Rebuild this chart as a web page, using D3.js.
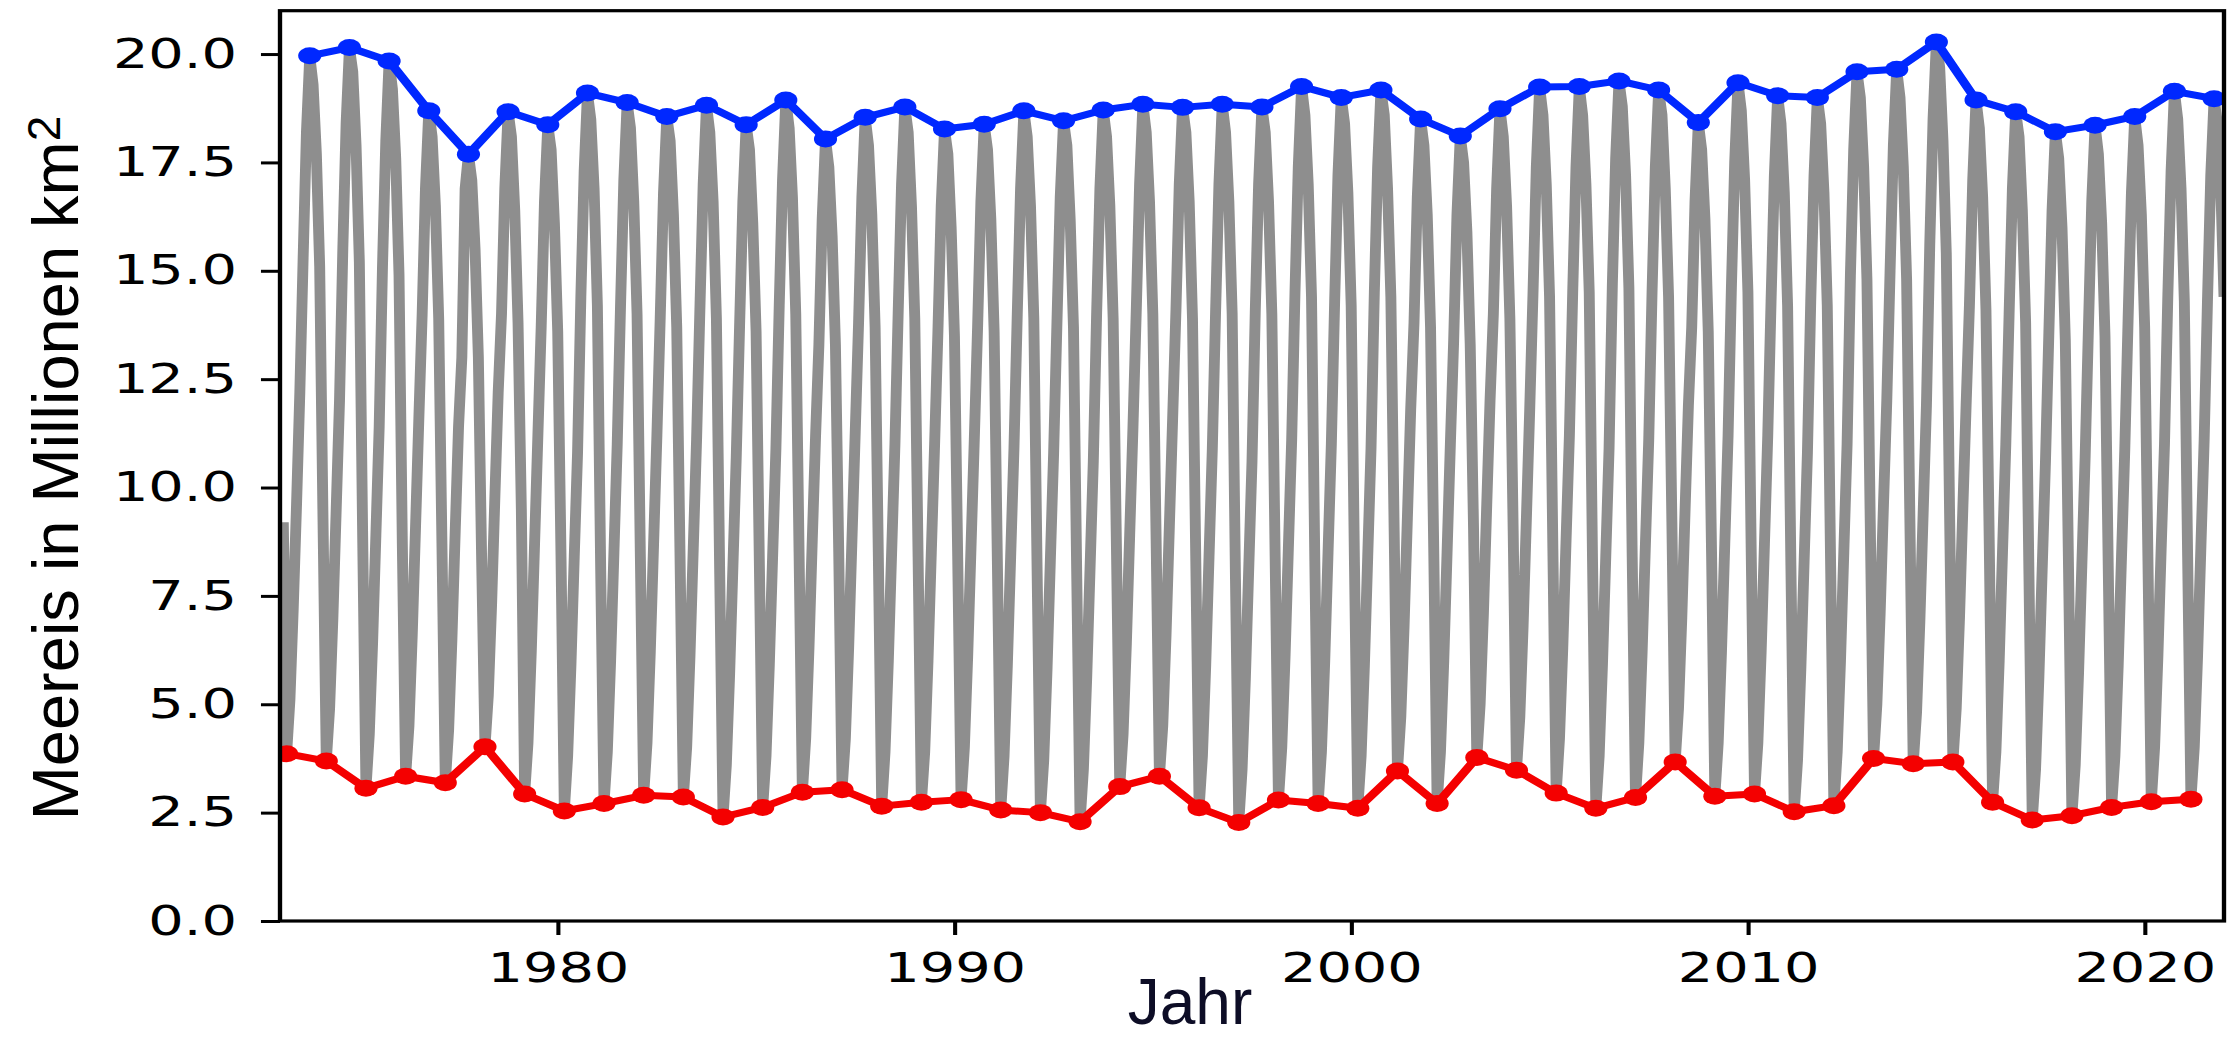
<!DOCTYPE html>
<html>
<head>
<meta charset="utf-8">
<script src="https://cdn.jsdelivr.net/npm/d3@7"></script>
<style>
  html, body { margin: 0; padding: 0; background: #fff; }
  svg { display: block; }
</style>
</head>
<body>
<svg id="chart" width="2230" height="1039"></svg>
<script>
// Monthly sea-ice extent (million km²): year, then Jan … Dec
const monthlyExtent = [
  [1973, 9.2, 3.86, 5.1, 7.2, 9.6, 12.2, 15.3, 18.2, 19.96, 19.3, 17.7, 15.1],
  [1974, 9.3, 3.69, 4.9, 7.0, 9.5, 12.0, 15.5, 18.4, 20.15, 19.6, 17.9, 15.2],
  [1975, 8.9, 3.06, 4.3, 6.4, 8.9, 11.4, 15.1, 18.0, 19.84, 19.2, 17.6, 14.9],
  [1976, 8.7, 3.34, 4.5, 6.6, 9.1, 11.6, 14.0, 16.9, 18.69, 18.1, 16.5, 13.9],
  [1977, 8.6, 3.19, 4.4, 6.5, 9.0, 11.4, 13.0, 16.9, 17.69, 17.1, 15.5, 13.0],
  [1978, 8.3, 4.02, 5.2, 7.3, 9.8, 12.2, 14.0, 16.9, 18.67, 18.1, 16.4, 13.8],
  [1979, 9.5, 2.93, 4.1, 6.2, 8.7, 11.2, 13.7, 16.6, 18.37, 17.8, 16.1, 13.6],
  [1980, 8.4, 2.54, 3.8, 5.9, 8.4, 10.8, 14.4, 17.3, 19.10, 18.5, 16.9, 14.2],
  [1981, 8.1, 2.71, 3.9, 6.0, 8.5, 11.0, 14.2, 17.1, 18.88, 18.3, 16.6, 14.0],
  [1982, 8.4, 2.90, 4.1, 6.2, 8.7, 11.2, 13.9, 16.8, 18.56, 18.0, 16.3, 13.7],
  [1983, 8.4, 2.86, 4.0, 6.1, 8.6, 11.1, 14.1, 17.0, 18.82, 18.2, 16.6, 13.9],
  [1984, 8.0, 2.40, 3.6, 5.7, 8.2, 10.7, 13.7, 16.6, 18.37, 17.8, 16.1, 13.6],
  [1985, 8.2, 2.62, 3.8, 5.9, 8.4, 10.9, 14.2, 17.1, 18.94, 18.3, 16.7, 14.0],
  [1986, 8.5, 2.97, 4.2, 6.3, 8.8, 11.2, 13.3, 16.2, 18.04, 17.4, 15.8, 13.3],
  [1987, 8.5, 3.03, 4.2, 6.3, 8.8, 11.3, 13.8, 16.7, 18.54, 17.9, 16.3, 13.7],
  [1988, 8.3, 2.65, 3.9, 6.0, 8.5, 11.0, 14.1, 17.0, 18.78, 18.2, 16.5, 13.9],
  [1989, 8.4, 2.74, 3.9, 6.0, 8.5, 11.0, 13.6, 16.5, 18.27, 17.7, 16.0, 13.5],
  [1990, 8.3, 2.80, 4.0, 6.1, 8.6, 11.1, 13.7, 16.6, 18.38, 17.8, 16.2, 13.6],
  [1991, 8.2, 2.56, 3.8, 5.9, 8.4, 10.9, 14.0, 16.9, 18.69, 18.1, 16.5, 13.9],
  [1992, 8.1, 2.50, 3.7, 5.8, 8.3, 10.8, 13.8, 16.7, 18.46, 17.9, 16.2, 13.7],
  [1993, 7.9, 2.29, 3.5, 5.6, 8.1, 10.6, 14.0, 16.9, 18.71, 18.1, 16.5, 13.9],
  [1994, 8.6, 3.10, 4.3, 6.4, 8.9, 11.4, 14.1, 17.0, 18.84, 18.2, 16.6, 14.0],
  [1995, 8.8, 3.34, 4.5, 6.6, 9.1, 11.6, 14.1, 17.0, 18.77, 18.2, 16.6, 13.9],
  [1996, 8.3, 2.61, 3.8, 5.9, 8.4, 10.9, 14.1, 17.0, 18.84, 18.2, 16.6, 14.0],
  [1997, 7.9, 2.27, 3.5, 5.6, 8.1, 10.6, 14.1, 17.0, 18.78, 18.2, 16.6, 14.0],
  [1998, 8.4, 2.79, 4.0, 6.1, 8.6, 11.1, 14.5, 17.4, 19.25, 18.6, 17.0, 14.4],
  [1999, 8.3, 2.71, 3.9, 6.0, 8.5, 11.0, 14.3, 17.2, 19.00, 18.4, 16.8, 14.2],
  [2000, 8.2, 2.60, 3.8, 5.9, 8.4, 10.9, 14.5, 17.4, 19.17, 18.6, 16.9, 14.4],
  [2001, 9.0, 3.46, 4.7, 6.8, 9.3, 11.8, 13.8, 16.7, 18.50, 17.9, 16.3, 13.7],
  [2002, 8.4, 2.71, 3.9, 6.0, 8.5, 11.0, 13.4, 16.3, 18.11, 17.5, 15.9, 13.3],
  [2003, 9.1, 3.77, 5.0, 7.1, 9.6, 12.0, 14.0, 16.9, 18.74, 18.1, 16.5, 13.9],
  [2004, 9.0, 3.48, 4.7, 6.8, 9.3, 11.8, 14.5, 17.4, 19.24, 18.6, 17.0, 14.4],
  [2005, 8.6, 2.95, 4.2, 6.3, 8.8, 11.2, 14.5, 17.4, 19.25, 18.6, 17.0, 14.5],
  [2006, 8.3, 2.60, 3.8, 5.9, 8.4, 10.9, 14.7, 17.6, 19.38, 18.8, 17.2, 14.6],
  [2007, 8.4, 2.85, 4.1, 6.2, 8.7, 11.1, 14.5, 17.4, 19.17, 18.6, 16.9, 14.4],
  [2008, 9.2, 3.67, 4.9, 7.0, 9.5, 11.9, 13.7, 16.6, 18.42, 17.8, 16.2, 13.6],
  [2009, 8.5, 2.88, 4.1, 6.2, 8.7, 11.2, 14.6, 17.5, 19.34, 18.7, 17.1, 14.5],
  [2010, 8.5, 2.93, 4.1, 6.2, 8.7, 11.2, 14.3, 17.2, 19.04, 18.4, 16.8, 14.2],
  [2011, 8.2, 2.52, 3.7, 5.8, 8.3, 10.8, 14.3, 17.2, 19.00, 18.4, 16.8, 14.2],
  [2012, 8.3, 2.66, 3.9, 6.0, 8.5, 11.0, 14.9, 17.8, 19.59, 19.0, 17.4, 14.8],
  [2013, 9.2, 3.75, 5.0, 7.1, 9.6, 12.0, 15.0, 17.9, 19.65, 19.0, 17.4, 14.8],
  [2014, 9.2, 3.63, 4.8, 6.9, 9.4, 11.9, 15.6, 18.5, 20.28, 19.7, 18.0, 15.4],
  [2015, 9.4, 3.67, 4.9, 7.0, 9.5, 11.9, 14.2, 17.1, 18.94, 18.3, 16.7, 14.1],
  [2016, 8.7, 2.74, 3.9, 6.0, 8.5, 11.0, 14.0, 16.9, 18.67, 18.1, 16.4, 13.8],
  [2017, 8.0, 2.33, 3.5, 5.6, 8.1, 10.6, 13.5, 16.4, 18.21, 17.6, 16.0, 13.4],
  [2018, 8.0, 2.43, 3.6, 5.7, 8.2, 10.7, 13.7, 16.6, 18.36, 17.7, 16.1, 13.5],
  [2019, 8.1, 2.62, 3.8, 5.9, 8.4, 10.9, 13.9, 16.8, 18.56, 17.9, 16.3, 13.7],
  [2020, 8.3, 2.75, 4.0, 6.1, 8.6, 11.0, 14.4, 17.3, 19.14, 18.5, 16.9, 14.3],
  [2021, 8.4, 2.81, 4.0, 6.1, 8.6, 11.1, 14.3, 17.2, 18.97, 18.4, 17.0, 14.4]
];

const xTickValues = [1980, 1990, 2000, 2010, 2020];
const yTickValues = [0, 2.5, 5, 7.5, 10, 12.5, 15, 17.5, 20];
const xDomain = [1973, 2022];
const yDomain = [0, 21];

const xLabel = "Jahr";
const yLabel = "Meereis in Millionen km";
const yLabelSup = "2";

// The plotting area is drawn horizontally stretched (wide lettering, oval markers)
const stretch = 1.36;
const plot = { left: 280, right: 2224, top: 10.7, bottom: 921 };

const svg = d3.select("#chart");

// Monthly points: month m of year Y sits at Y + m/12
const monthly = [];
monthlyExtent.forEach(row => {
  row.slice(1).forEach((v, i) => monthly.push({ t: row[0] + (i + 1) / 12, v }));
});

// Yearly maximum and minimum, taken from the monthly record
const yearlyMax = monthlyExtent.map(row => {
  const vals = row.slice(1);
  const i = d3.maxIndex(vals);
  return { t: row[0] + (i + 1) / 12, v: vals[i] };
});
const yearlyMin = monthlyExtent.map(row => {
  const vals = row.slice(1);
  const i = d3.minIndex(vals);
  return { t: row[0] + (i + 1) / 12, v: vals[i] };
});

const g = svg.append("g").attr("transform", `scale(${stretch},1)`);

const x = d3.scaleLinear().domain(xDomain).range([plot.left / stretch, plot.right / stretch]);
const y = d3.scaleLinear().domain(yDomain).range([plot.bottom, plot.top]);

g.append("clipPath").attr("id", "plot-clip")
  .append("rect")
  .attr("x", plot.left / stretch)
  .attr("y", plot.top)
  .attr("width", (plot.right - plot.left) / stretch)
  .attr("height", plot.bottom - plot.top);

const layer = g.append("g").attr("clip-path", "url(#plot-clip)");

const line = d3.line().x(d => x(d.t)).y(d => y(d.v));

// Seasonal cycle
layer.append("path")
  .datum(monthly)
  .attr("d", line)
  .attr("fill", "none")
  .attr("stroke", "#8e8e8e")
  .attr("stroke-width", 8)
  .attr("stroke-linejoin", "round");

// Yearly minima (red) and maxima (blue)
function drawExtremes(data, color) {
  layer.append("path")
    .datum(data)
    .attr("d", line)
    .attr("fill", "none")
    .attr("stroke", color)
    .attr("stroke-width", 7)
    .attr("stroke-linejoin", "round");
  layer.append("g")
    .selectAll("circle")
    .data(data)
    .join("circle")
    .attr("cx", d => x(d.t))
    .attr("cy", d => y(d.v))
    .attr("r", 8.5)
    .attr("fill", color);
}
drawExtremes(yearlyMin, "#f40000");
drawExtremes(yearlyMax, "#0028ff");

// Axes
const yAxis = d3.axisLeft(y)
  .tickValues(yTickValues)
  .tickFormat(d3.format(".1f"))
  .tickSize(14)
  .tickPadding(17.6);
const xAxis = d3.axisBottom(x)
  .tickValues(xTickValues)
  .tickFormat(d3.format("d"))
  .tickSize(14)
  .tickPadding(18);

function styleAxis(sel) {
  sel.select(".domain").remove();
  sel.attr("font-family", "'DejaVu Sans', sans-serif").attr("font-size", 41);
  sel.selectAll(".tick line").attr("stroke", "#000").attr("stroke-width", 3);
  sel.selectAll(".tick text").attr("fill", "#000");
}

g.append("g")
  .attr("transform", `translate(${plot.left / stretch},0)`)
  .call(yAxis)
  .call(styleAxis);

g.append("g")
  .attr("transform", `translate(0,${plot.bottom})`)
  .call(xAxis)
  .call(styleAxis);

// Frame
g.append("rect")
  .attr("x", plot.left / stretch)
  .attr("y", plot.top)
  .attr("width", (plot.right - plot.left) / stretch)
  .attr("height", plot.bottom - plot.top)
  .attr("fill", "none")
  .attr("stroke", "#000")
  .attr("stroke-width", 3.2);

// Axis titles
svg.append("text")
  .attr("x", 1190)
  .attr("y", 1024)
  .attr("text-anchor", "middle")
  .attr("font-family", "'Liberation Sans', Arial, sans-serif")
  .attr("font-size", 64)
  .attr("fill", "#0d0d26")
  .text(xLabel);

const yt = svg.append("text")
  .attr("transform", "translate(78,468) rotate(-90)")
  .attr("text-anchor", "middle")
  .attr("font-family", "'Liberation Sans', Arial, sans-serif")
  .attr("font-size", 65)
  .attr("fill", "#000");
yt.append("tspan").text(yLabel);
yt.append("tspan").attr("dy", -18).attr("font-size", 46).text(yLabelSup);
</script>
</body>
</html>
